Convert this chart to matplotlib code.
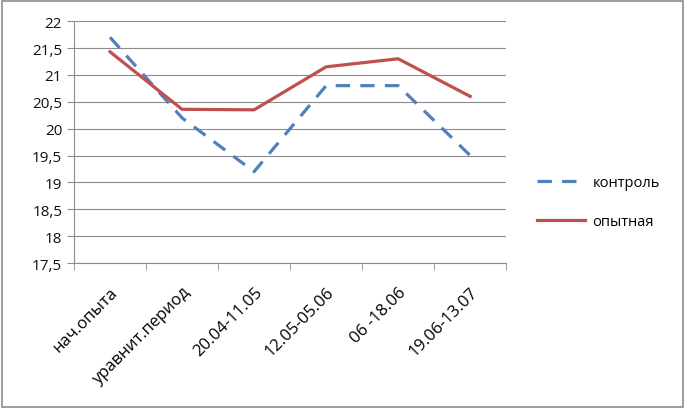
import matplotlib
matplotlib.use("Agg")
import matplotlib.pyplot as plt
from matplotlib.patches import Rectangle
from matplotlib.ticker import FuncFormatter

periods = ["нач.опыта", "уравнит.период", "20.04-11.05", "12.05-05.06",
           "06 -18.06", "19.06-13.07"]
control = [21.7, 20.2, 19.2, 20.8, 20.8, 19.5]
trial = [21.43, 20.36, 20.35, 21.15, 21.3, 20.6]

plt.rcParams["font.family"] = ["Open Sans", "DejaVu Sans"]

fig = plt.figure(figsize=(6.85, 4.1), dpi=100)
ax = fig.add_axes([0.108, 0.356, 0.631, 0.59])

x = list(range(len(periods)))
ax.plot(x, control, color="#4F81BD", lw=2.3, dashes=(4.5, 3.2),
        label="контроль")
ax.plot(x, trial, color="#C0504D", lw=2.3, label="опытная")

ax.set_xlim(-0.5, len(periods) - 0.5)
ax.set_ylim(17.5, 22)
ax.set_yticks([17.5 + 0.5 * i for i in range(10)])
ax.yaxis.set_major_formatter(FuncFormatter(
    lambda v, _: (f"{v:g}").replace(".", ",")))
ax.grid(axis="y", color="#8c8c8c", lw=0.8)
ax.set_axisbelow(True)

ax.set_xticks(x)
ax.set_xticklabels(periods, rotation=45, ha="right", rotation_mode="anchor",
                   fontsize=12)
ax.set_xticks([i - 0.5 for i in range(len(periods) + 1)], minor=True)
ax.tick_params(axis="x", which="major", length=0, pad=15)
ax.tick_params(axis="x", which="minor", length=5, color="#8c8c8c")
ax.tick_params(axis="y", length=5, color="#8c8c8c", labelsize=11,
               labelcolor="#111111")

for s in ["top", "right"]:
    ax.spines[s].set_visible(False)
for s in ["left", "bottom"]:
    ax.spines[s].set_color("#8c8c8c")
    ax.spines[s].set_linewidth(0.8)

ax.legend(loc="center left", bbox_to_anchor=(0.765, 0.505),
          bbox_transform=fig.transFigure, frameon=False, fontsize=10.5,
          handlelength=3.3, labelspacing=1.6, handletextpad=0.5)

fig.patches.append(Rectangle((0.003, 0.004), 0.994, 0.992,
                             transform=fig.transFigure, fill=False,
                             edgecolor="#8c8c8c", lw=1.2))

fig.savefig("out.png", dpi=100)
